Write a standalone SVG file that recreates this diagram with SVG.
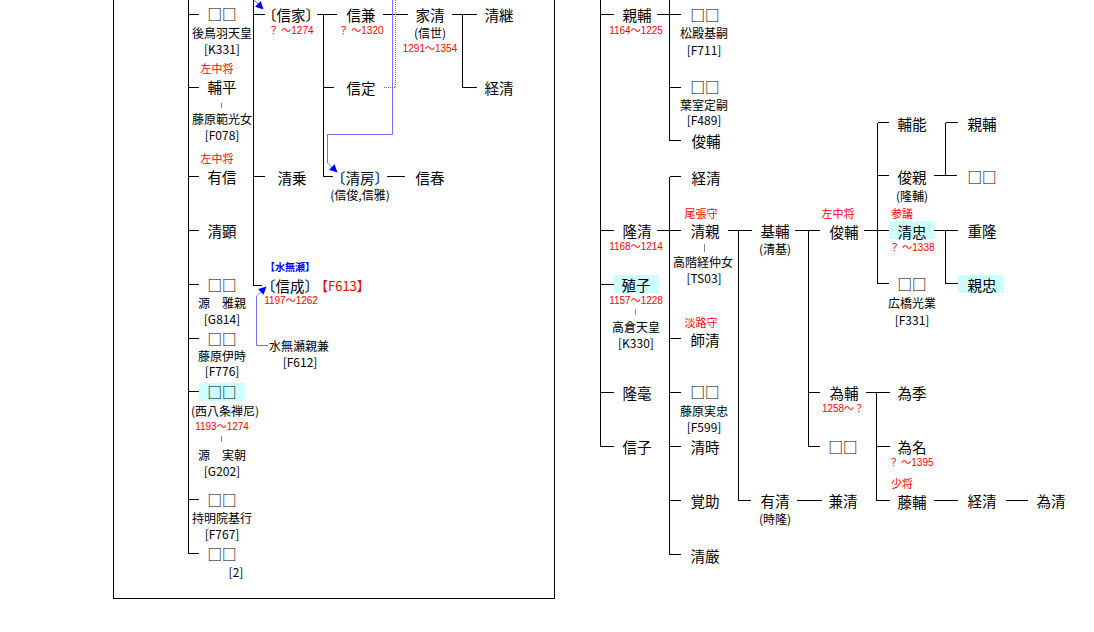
<svg xmlns="http://www.w3.org/2000/svg" width="1094" height="632" viewBox="0 0 1094 632">
<style>
text{font-family:"Noto Sans CJK JP","Noto Sans CJK SC",sans-serif;text-anchor:middle;dominant-baseline:central;fill:#000}
.n{font-size:14.5px}
.s{font-size:12px}
.r{font-size:11px;fill:#ff0000}
.d{font-family:"Liberation Sans","Noto Sans CJK JP",sans-serif;font-size:10px;fill:#ff0000}
.b{font-size:10px;font-weight:bold;fill:#0000ff}
.f{font-size:13px;fill:#ff0000;text-anchor:start}
.q{font-weight:500}
.hl{fill:#ccffff}
.ln{stroke:#000;stroke-width:1;fill:none;shape-rendering:crispEdges}
.gl{stroke:#888;stroke-width:1;shape-rendering:crispEdges}
.bl{stroke:#7070ff;stroke-width:1;fill:none}
.bd{stroke:#6060ff;stroke-width:1;fill:none;stroke-dasharray:1 1}
</style>
<defs>
<marker id="ah" viewBox="0 0 10 10" refX="9" refY="5" markerWidth="8" markerHeight="8" markerUnits="userSpaceOnUse" orient="auto">
<path d="M0,0 L10,5 L0,10 z" fill="#0000ff"/>
</marker>
</defs>
<rect width="1094" height="632" fill="#fff"/>
<g id="frame" class="ln">
<path d="M113.5,0 V598.5 H554.5 V0"/>
</g>
<g id="highlights">
<rect class="hl" x="199" y="383" width="46" height="18"/>
<rect class="hl" x="613" y="275" width="46" height="18"/>
<rect class="hl" x="889" y="221" width="46" height="18"/>
<rect class="hl" x="958" y="275" width="46" height="18"/>
</g>
<g id="connectors">
<g class="ln">
<path d="M188.5,0 V553.5 H199"/>
<path d="M188.5,14.5 H199 M188.5,87.5 H199 M188.5,176.5 H199 M188.5,230.5 H199 M188.5,284.5 H199 M188.5,338.5 H199 M188.5,391.5 H199 M188.5,499.5 H199"/>
<path d="M253.5,0 V285.5 H262"/>
<path d="M253.5,14.5 H265 M253.5,176.5 H265"/>
<path d="M317,14.5 H337 M323.5,14.5 V176.5 H333 M323.5,87.5 H334"/>
<path d="M383,14.5 H408 M387,176.5 H405"/>
<path d="M452,14.5 H477 M462.5,14.5 V87.5 H477"/>
<path d="M600.5,0 V446.5 H614 M600.5,14.5 H614 M600.5,230.5 H614 M600.5,284.5 H614 M600.5,392.5 H614"/>
<path d="M657,14.5 H681 M669.5,0 V140.5 H681 M669.5,87.5 H681"/>
<path d="M669.5,176.5 V554.5 H681 M669.5,176.5 H681 M657,230.5 H681 M669.5,338.5 H681 M669.5,392.5 H681 M669.5,446.5 H681 M669.5,500.5 H681"/>
<path d="M728,230.5 H752 M738.5,230.5 V500.5 H751"/>
<path d="M797,500.5 H822"/>
<path d="M795,230.5 H820 M808.5,230.5 V446.5 H820 M808.5,392.5 H820"/>
<path d="M864,230.5 H889 M877.5,122.5 V283.5 H889 M877.5,122.5 H889 M877.5,175.5 H889"/>
<path d="M934,175.5 H957 M945.5,122.5 V175.5 M945.5,122.5 H958"/>
<path d="M934,230.5 H958 M945.5,230.5 V283.5 H958"/>
<path d="M866,392.5 H890 M876.5,392.5 V500.5 H890 M876.5,446.5 H890"/>
<path d="M934,500.5 H958 M1006,500.5 H1028"/>
</g>
<g class="gl">
<path d="M221.5,103 V108 M221.5,436 V442 M704.5,244 V252 M635.5,309 V315"/>
</g>
<path class="bl" d="M254,0 L263,9" marker-end="url(#ah)"/>
<path class="bd" d="M395.5,0 V87.5 H384"/>
<path class="bl" d="M392.5,0 V134.5 H327.5 V163 L337,172" marker-end="url(#ah)"/>
<path class="bl" d="M268,345.5 H256.5 V296 L266,287" marker-end="url(#ah)"/>
</g>
<g id="nodes" transform="translate(0,-2)">
<g id="n-gotoba"><text class="n q" x="222" y="15">□□</text><text class="s" x="222" y="34">後鳥羽天皇</text><text class="s" x="222" y="50">[K331]</text></g>
<g id="n-sukehira"><text class="r" x="217" y="70">左中将</text><text class="n" x="222" y="88">輔平</text><text class="s" x="222" y="120">藤原範光女</text><text class="s" x="222" y="136">[F078]</text></g>
<g id="n-arinobu"><text class="r" x="217" y="160">左中将</text><text class="n" x="222" y="178">有信</text></g>
<g id="n-kiyoaki"><text class="n" x="222" y="232">清顕</text></g>
<g id="n-masachika"><text class="n q" x="222" y="286">□□</text><text class="s" x="222" y="304">源　雅親</text><text class="s" x="222" y="320">[G814]</text></g>
<g id="n-koretoki"><text class="n q" x="222" y="340">□□</text><text class="s" x="222" y="357">藤原伊時</text><text class="s" x="222" y="372">[F776]</text></g>
<g id="n-nishihachijo"><text class="n q" x="222" y="393">□□</text><text class="s" x="225" y="412">(西八条禅尼)</text><text class="d" x="222" y="428">1193～1274</text><text class="s" x="222" y="456">源　実朝</text><text class="s" x="222" y="472">[G202]</text></g>
<g id="n-motoyuki"><text class="n q" x="222" y="501">□□</text><text class="s" x="222" y="519">持明院基行</text><text class="s" x="222" y="535">[F767]</text></g>
<g id="n-two"><text class="n q" x="222" y="555">□□</text><text class="s" x="236" y="573">[2]</text></g>
<g id="n-nobuie"><text class="n" x="291" y="16">〔信家〕</text><text class="d" x="291" y="32">？ ～1274</text></g>
<g id="n-kiyonori"><text class="n" x="292" y="179">清乗</text></g>
<g id="n-nobunari"><text class="b" x="290" y="268">【水無瀬】</text><text class="n" x="290" y="287">〔信成〕</text><text class="f" x="315" y="287">【F613】</text><text class="d" x="291" y="302">1197～1262</text></g>
<g id="n-chikakane"><text class="s" x="299" y="347">水無瀬親兼</text><text class="s" x="300" y="363">[F612]</text></g>
<g id="n-nobukane"><text class="n" x="361" y="16">信兼</text><text class="d" x="361" y="32">？ ～1320</text></g>
<g id="n-nobusada"><text class="n" x="361" y="89">信定</text></g>
<g id="n-kiyofusa"><text class="n" x="360" y="179">〔清房〕</text><text class="s" x="360" y="196">(信俊,信雅)</text></g>
<g id="n-nobuharu"><text class="n" x="430" y="179">信春</text></g>
<g id="n-iekiyo"><text class="n" x="430" y="16">家清</text><text class="s" x="430" y="34">(信世)</text><text class="d" x="430" y="50">1291～1354</text></g>
<g id="n-kiyotsugu"><text class="n" x="499" y="16">清継</text></g>
<g id="n-tsunekiyo1"><text class="n" x="499" y="89">経清</text></g>
<g id="n-chikasuke"><text class="n" x="637" y="16">親輔</text><text class="d" x="636" y="32">1164～1225</text></g>
<g id="n-takakiyo"><text class="n" x="637" y="232">隆清</text><text class="d" x="636" y="248">1168～1214</text></g>
<g id="n-shokushi"><text class="n" x="636" y="286">殖子</text><text class="d" x="636" y="302">1157～1228</text><text class="s" x="636" y="328">高倉天皇</text><text class="s" x="636" y="344">[K330]</text></g>
<g id="n-takago"><text class="n" x="637" y="394">隆毫</text></g>
<g id="n-nobuko"><text class="n" x="637" y="448">信子</text></g>
<g id="n-mototsugu"><text class="n q" x="705" y="16">□□</text><text class="s" x="704" y="34">松殿基嗣</text><text class="s" x="704" y="51">[F711]</text></g>
<g id="n-sadatsugu"><text class="n q" x="705" y="88">□□</text><text class="s" x="704" y="106">葉室定嗣</text><text class="s" x="704" y="121">[F489]</text></g>
<g id="n-toshisuke1"><text class="n" x="706" y="142">俊輔</text></g>
<g id="n-tsunekiyo2"><text class="n" x="706" y="179">経清</text></g>
<g id="n-kiyochika"><text class="r" x="701" y="215">尾張守</text><text class="n" x="705" y="232">清親</text><text class="s" x="703" y="263">高階経仲女</text><text class="s" x="704" y="279">[TS03]</text></g>
<g id="n-morokiyo"><text class="r" x="701" y="324">淡路守</text><text class="n" x="705" y="341">師清</text></g>
<g id="n-sanetada"><text class="n q" x="705" y="393">□□</text><text class="s" x="704" y="412">藤原実忠</text><text class="s" x="704" y="428">[F599]</text></g>
<g id="n-kiyotoki"><text class="n" x="705" y="448">清時</text></g>
<g id="n-kakujo"><text class="n" x="705" y="502">覚助</text></g>
<g id="n-seigon"><text class="n" x="705" y="557">清厳</text></g>
<g id="n-motosuke"><text class="n" x="775" y="232">基輔</text><text class="s" x="775" y="250">(清基)</text></g>
<g id="n-arikiyo"><text class="n" x="775" y="502">有清</text><text class="s" x="775" y="520">(時隆)</text></g>
<g id="n-toshisuke2"><text class="r" x="838" y="215">左中将</text><text class="n" x="844" y="233">俊輔</text></g>
<g id="n-tamesuke"><text class="n" x="844" y="394">為輔</text><text class="d" x="843" y="410">1258～？</text></g>
<g id="n-blank1"><text class="n q" x="843" y="448">□□</text></g>
<g id="n-kanekiyo"><text class="n" x="843" y="502">兼清</text></g>
<g id="n-sukeyoshi"><text class="n" x="912" y="125">輔能</text></g>
<g id="n-toshichika"><text class="n" x="912" y="178">俊親</text><text class="s" x="912" y="197">(隆輔)</text></g>
<g id="n-kiyotada"><text class="r" x="902" y="215">参議</text><text class="n" x="912" y="233">清忠</text><text class="d" x="912" y="249">？ ～1338</text></g>
<g id="n-mitsunari"><text class="n q" x="912" y="285">□□</text><text class="s" x="912" y="304">広橋光業</text><text class="s" x="912" y="321">[F331]</text></g>
<g id="n-tamesue"><text class="n" x="912" y="394">為季</text></g>
<g id="n-tamena"><text class="n" x="912" y="448">為名</text><text class="d" x="911" y="464">？ ～1395</text></g>
<g id="n-fujisuke"><text class="r" x="902" y="485">少将</text><text class="n" x="912" y="503">藤輔</text></g>
<g id="n-chikasuke2"><text class="n" x="982" y="125">親輔</text></g>
<g id="n-blank2"><text class="n q" x="982" y="178">□□</text></g>
<g id="n-shigetaka"><text class="n" x="982" y="232">重隆</text></g>
<g id="n-chikatada"><text class="n" x="982" y="286">親忠</text></g>
<g id="n-tsunekiyo3"><text class="n" x="982" y="502">経清</text></g>
<g id="n-tamekiyo"><text class="n" x="1051" y="502">為清</text></g>
</g>
</svg>
